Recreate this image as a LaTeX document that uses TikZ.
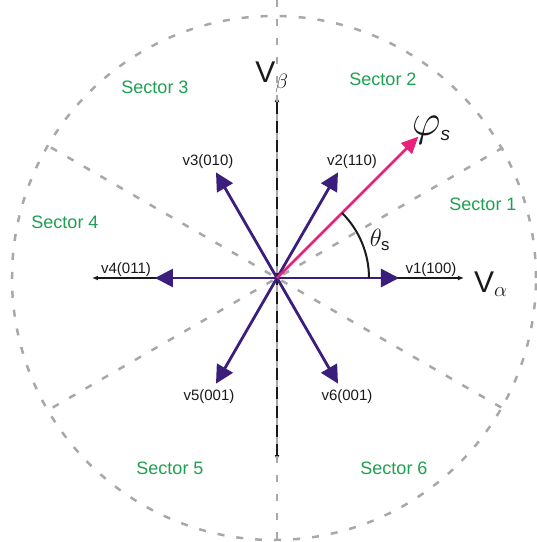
\documentclass[tikz,border=0pt]{standalone}
\usepackage{amsmath}
\usepackage{graphicx}
\usepackage{fontspec}
\setmainfont{Liberation Sans}
\usetikzlibrary{arrows.meta}
\definecolor{vecpurple}{HTML}{3B1E7C}
\definecolor{fluxpink}{HTML}{E8217A}
\definecolor{sectgreen}{HTML}{1EA050}
\definecolor{dashgray}{HTML}{A8A8A8}
\definecolor{ink}{HTML}{1A1A1A}
\tikzset{
  sectline/.style={draw=dashgray,line width=2.5pt,dash pattern=on 7pt off 12pt},
  axisline/.style={draw=ink,line width=1.2pt,
                   {Latex[length=6pt,width=5pt]}-{Latex[length=6pt,width=5pt]}},
  swvec/.style={draw=vecpurple,line width=2.8pt,
                -{Triangle[length=18pt,width=18pt]}},
  fluxvec/.style={draw=fluxpink,line width=2.8pt,
                  -{Triangle[length=17pt,width=15pt]}},
  veclabel/.style={font=\fontsize{15}{17}\selectfont,text=ink,inner sep=0pt},
  sectlabel/.style={font=\fontsize{18}{20}\selectfont,text=sectgreen,inner sep=0pt},
  axislabel/.style={font=\fontsize{30}{32}\selectfont,text=ink,inner sep=0pt}
}

\begin{document}
\begin{tikzpicture}[x=1pt,y=1pt]
    \useasboundingbox (-277,-264) rectangle (260,278);
    \coordinate (O) at (0,0);
    % axes
    \coordinate (ax-w) at (-185,0);
    \coordinate (ax-e) at (187,0);
    \coordinate (ax-s) at (0,-183);
    \coordinate (ax-n) at (0,182);
    \draw[axisline] (ax-w) -- (ax-e);
    \draw[axisline] (ax-s) -- (ax-n);
    % sector boundaries
    \draw[sectline] (-3,0) circle (262);
    \draw[sectline] (30:261) -- (210:261);
    \draw[sectline] (150:261) -- (330:261);
    \draw[sectline] (90:278) -- (270:264);
    % switching vectors
    \coordinate (v1) at (0:122);
    \coordinate (v2) at (60:122);
    \coordinate (v3) at (120:122);
    \coordinate (v4) at (180:122);
    \coordinate (v5) at (240:122);
    \coordinate (v6) at (300:122);
    \draw[swvec] (O) -- (v1);
    \draw[swvec] (O) -- (v2);
    \draw[swvec] (O) -- (v3);
    \draw[swvec] (O) -- (v4);
    \draw[swvec] (O) -- (v5);
    \draw[swvec] (O) -- (v6);
    % stator flux
    \coordinate (phi) at (45:200);
    \draw[fluxvec] (O) -- (phi);
    \draw[draw=ink,line width=2pt] (0:92) arc (0:45:92);
    % labels
    \node[veclabel] (l1) at (154,8) {v1(100)};
    \node[veclabel] (l2) at (75,116) {v2(110)};
    \node[veclabel] (l3) at (-69,116) {v3(010)};
    \node[veclabel] (l4) at (-151,8) {v4(011)};
    \node[veclabel] (l5) at (-68,-119) {v5(001)};
    \node[veclabel] (l6) at (70,-119) {v6(001)};
    \node[axislabel] (valpha) at (214,-6) {V$_{\alpha}$};
    \node[axislabel] (vbeta) at (-5,201) {V$_{\beta}$};
    \node[text=ink,inner sep=0pt] (phis) at (154,148)
      {\fontsize{24}{26}\selectfont\scalebox{1.8}{$\varphi$}\raisebox{-5pt}{\fontsize{19}{19}\selectfont\itshape s}};
    \node[font=\fontsize{24}{26}\selectfont,text=ink,inner sep=0pt] (thetas) at (103,38)
      {$\theta_{\text{s}}$};
    \node[sectlabel] (s1) at (206,74) {Sector 1};
    \node[sectlabel] (s2) at (106,199) {Sector 2};
    \node[sectlabel] (s3) at (-122,191) {Sector 3};
    \node[sectlabel] (s4) at (-212,56) {Sector 4};
    \node[sectlabel] (s5) at (-107,-190) {Sector 5};
    \node[sectlabel] (s6) at (117,-190) {Sector 6};
  \end{tikzpicture}
\end{document}
